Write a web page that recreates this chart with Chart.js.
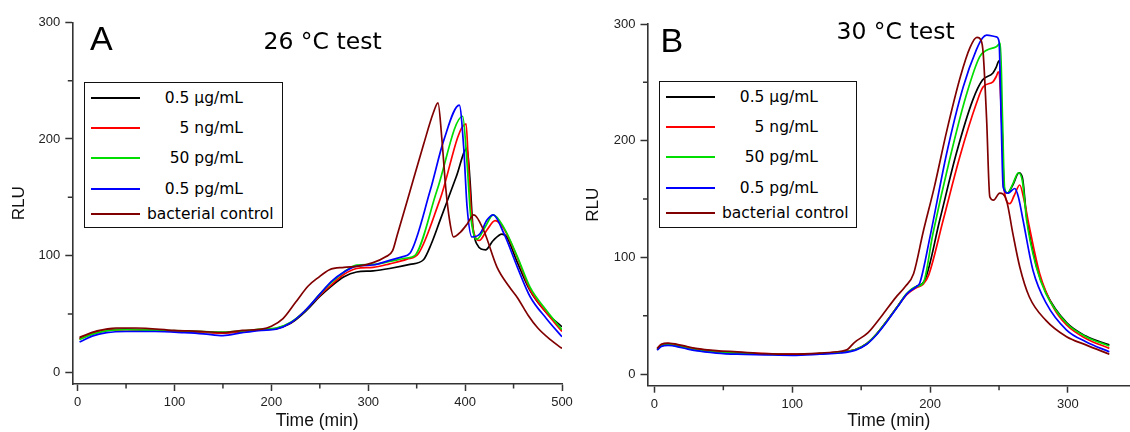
<!DOCTYPE html>
<html><head><meta charset="utf-8">
<script src="https://cdn.jsdelivr.net/npm/chart.js@4.4.1/dist/chart.umd.min.js"></script>
<style>
html,body{margin:0;padding:0;background:#fff;width:1130px;height:432px;overflow:hidden;position:relative;}
canvas{position:absolute;top:0;}
.lbl{position:absolute;white-space:nowrap;color:#000;}
.letter{font-family:"Liberation Sans",Arial,sans-serif;font-size:34px;line-height:34px;}
.title{font-family:"DejaVu Sans",sans-serif;font-size:23.5px;line-height:23.5px;}
.legend{position:absolute;border:1.5px solid #111;box-sizing:border-box;background:#fff;}
.row{position:absolute;left:0;width:100%;height:0;}
.swatch{position:absolute;left:6px;width:49px;height:2px;top:-1px;}
.txt{position:absolute;left:62px;width:96px;text-align:right;font-family:"DejaVu Sans",sans-serif;font-size:15.5px;line-height:20px;top:-10px;white-space:nowrap;color:#000;}
</style></head>
<body>
<canvas id="cA" width="578" height="432" style="left:0"></canvas>
<canvas id="cB" width="552" height="432" style="left:578px"></canvas>
<div class="lbl letter" style="left:90px;top:21px">A</div>
<div class="lbl title" style="left:263.5px;top:30px">26 °C test</div>
<div class="lbl letter" style="left:660.5px;top:22.5px">B</div>
<div class="lbl title" style="left:836.5px;top:20px">30 °C test</div>
<div class="legend" id="legA" style="left:84px;top:82px;width:199px;height:146px"></div>
<div class="legend" id="legB" style="left:659px;top:81px;width:198px;height:147px"></div>
<script>
// ---- Data (time in min, RLU) ----
const seriesLabels = ['0.5 μg/mL', '5 ng/mL', '50 pg/mL', '0.5 pg/mL', 'bacterial control'];
const seriesColors = ['#000000', '#ff0000', '#00dd00', '#0000ff', '#800000'];

const xTicksA = [0, 100, 200, 300, 400, 500];
const xMinorA = [50, 150, 250, 350, 450];
const xTicksB = [0, 100, 200, 300];
const xMinorB = [50, 150, 250];
const yTicks = [0, 100, 200, 300];
const yMinor = [50, 150, 250];

// Panel A: 26 °C
const blackA = [[2,29],[15,33.5],[30,36.5],[50,37],[80,36],[110,35],[130,34.5],[150,34],[170,35],[190,36.5],[205,37.5],[220,42],[235,52],[250,65],[262,74],[275,82],[288,86],[305,87],[322,89],[343,92.5],[357,96.5],[365,110],[374,130],[391,168],[402,192],[405,165],[408,125],[412,110],[421,105],[429,113],[438,118.5],[443,116],[453,96],[467,70],[484,51],[500,39]];
const redA = [[2,28.5],[15,33],[30,36],[50,36.5],[80,36],[110,35],[130,34.5],[150,33.5],[170,35],[190,36.5],[205,37.5],[220,42.5],[235,53],[250,66],[262,75],[275,84],[288,89],[305,90],[322,93],[340,97],[352,102],[374,148],[401,213],[403.5,176],[407,130],[410.5,116],[414.5,113],[422.5,122],[431,130],[440,123],[454,98],[467,71],[484,51],[500,35]];
const greenA = [[2,28],[15,32.5],[30,35.5],[50,36.5],[80,36],[110,35.5],[130,35],[150,34.5],[170,35.5],[190,37],[205,38],[220,43],[235,53],[250,67],[262,77],[275,86],[288,92],[305,92.5],[322,95],[340,98],[348,100],[371,156],[397.5,219.5],[402,179],[405.5,136],[408.7,119],[412,114],[421,125],[429,135],[440,124],[454,99],[467,73],[484,53],[500,36.5]];
const blueA = [[2,26],[15,31],[30,34],[50,35],[80,35],[110,34],[130,33],[150,31.5],[170,34],[190,36],[205,37],[220,42.5],[235,53],[250,67],[262,78],[275,86],[288,91],[305,92],[322,96],[335,99],[343,102],[364,156],[378,199],[394,229],[398.5,193],[402,142],[407,116],[415.5,119],[422.5,130.5],[429,135],[440,119],[454,90],[467,65],[484,46],[500,30.5]];
const brownA = [[2,30],[20,35.5],[40,38],[60,38],[100,36],[130,35],[150,34],[170,36],[190,37],[200,39.5],[212,46],[225,60],[238,74],[248,81],[260,88],[275,90],[290,91],[305,94],[318,99],[325,104],[330,118],[343,155],[357,195],[367,222],[372,231],[376,200],[380,158],[384,130],[388,116],[395,120],[402,127],[409,135],[419,122],[433,90],[445,74],[454,64],[465,49],[475,38],[488,28],[500,20.5]];

// Panel B: 30 °C
const blackB = [[2,21],[5,24.5],[10,25.5],[20,23.5],[30,21],[45,19],[60,18],[80,17],[100,16.5],[120,17.5],[135,18.5],[146,21],[154,26],[161,34],[169,46],[177,59],[183,68.5],[190,75],[196,80],[207,132],[219,189],[231,235],[238,252],[245.6,258],[248,263],[250,268.5],[252.5,200],[253.5,160],[256,155],[260,162],[264.5,172.5],[267,168],[270,135],[277,93],[284,70],[299,44],[313,32.5],[330,25]];
const redB = [[2,21.5],[5,25],[10,26],[20,24],[30,21.5],[45,19.5],[60,18.5],[80,17.5],[100,17],[120,17.5],[135,19],[146,21],[154,26],[161,34],[169,46],[177,59],[183,68],[190,74],[195,77],[199,85],[209.5,132],[221.5,186],[233.6,232],[238.4,246],[245.6,250.5],[248,255],[249.5,259],[252.5,200],[253.5,160],[257.8,146],[261,153],[265,162],[268,150],[272,126],[279.5,86],[289,58],[299,42],[313,30.5],[330,22]];
const greenB = [[2,21],[5,24],[10,25],[20,23],[30,20.5],[45,18.5],[60,18],[80,17],[100,16.5],[120,17.5],[135,18.5],[146,21],[154,26],[161,34],[169,46],[177,59],[183,69],[190,75],[195,78],[202,120],[214,183],[226,238],[236,272],[241,277.5],[248,280.5],[251,283.5],[252.5,220],[254,160],[256,155],[260,163],[264,172.5],[267,165],[270,132],[277,92],[284,69],[299,43.5],[313,32],[330,24]];
const blueB = [[2,20.5],[5,23.5],[10,24.5],[20,22.5],[30,20],[45,18],[60,17],[80,16.5],[100,16],[120,17],[135,18],[146,20.5],[154,25.5],[161,33.5],[169,45.5],[177,58.5],[183,68.5],[190,75],[192.5,78],[200,118],[212,189],[224,246],[233.6,278],[238,288],[241,290.5],[248,289],[250,285],[251.5,220],[253,160],[256.5,155],[261.4,159],[264,152],[267.4,132],[274.6,89],[284.3,60.5],[299,37.7],[313,27.7],[330,19]];
const brownB = [[2,22],[5,25.5],[10,26.5],[20,24.5],[30,22],[45,20],[60,19],[80,17.5],[100,17],[120,18],[135,19.5],[140,21],[145,27],[155,35.5],[165,50],[175,65.5],[182,75],[188,86],[195,122],[203,160],[212,208],[222,255],[229,280],[234,288.5],[237,286],[238.5,275],[241,218],[243.3,152],[246,149],[250.5,155],[255.4,149],[260,120.5],[265,92],[272,66],[284,46],[299,32],[313,25],[330,17]];

const seriesA = [blackA, redA, greenA, blueA, brownA];
const seriesB = [blackB, redB, greenB, blueB, brownB];

// ---- Rendering ----
const axisColor = '#333333';
const tickFont = {family: '"Liberation Sans", Arial, sans-serif', size: 13};
const titleFont = {family: '"Liberation Sans", Arial, sans-serif', size: 17.5};

const minorTicks = {
  id: 'minorTicks',
  afterDraw(chart, args, opts) {
    const ctx = chart.ctx, xs = chart.scales.x, ys = chart.scales.y;
    ctx.save();
    ctx.strokeStyle = axisColor; ctx.lineWidth = 1.5;
    ctx.beginPath();
    for (const v of opts.x) { const p = xs.getPixelForValue(v); ctx.moveTo(p, xs.top); ctx.lineTo(p, xs.top + 4.5); }
    for (const v of opts.y) { const p = ys.getPixelForValue(v); ctx.moveTo(ys.right, p); ctx.lineTo(ys.right - 4.5, p); }
    ctx.stroke();
    ctx.restore();
  }
};

function makeChart(id, series, cfg) {
  const datasets = series.map((d, i) => ({
    label: seriesLabels[i],
    data: d,
    borderColor: seriesColors[i],
    backgroundColor: seriesColors[i],
    borderWidth: 1.7,
    pointRadius: 0,
    fill: false,
    cubicInterpolationMode: 'monotone',
    order: series.length - 1 - i
  }));
  return new Chart(document.getElementById(id), {
    type: 'line',
    data: {datasets},
    plugins: [minorTicks],
    options: {
      responsive: false,
      animation: false,
      events: [],
      layout: {padding: cfg.padding},
      plugins: {
        legend: {display: false},
        tooltip: {enabled: false},
        minorTicks: {x: cfg.xMinor, y: yMinor}
      },
      scales: {
        x: {
          type: 'linear', min: cfg.xMin, max: cfg.xMax,
          afterBuildTicks: s => { s.ticks = cfg.xTicks.map(v => ({value: v})); },
          afterFit: s => { s.height = cfg.xHeight; s.paddingLeft = 0; s.paddingRight = 0; },
          ticks: {font: tickFont, color: '#222', padding: 4, maxRotation: 0, autoSkip: false},
          grid: {display: true, drawOnChartArea: false, drawTicks: true, tickLength: 7, tickWidth: 1.5, tickColor: axisColor},
          border: {display: true, color: axisColor, width: 1.6},
          title: {display: true, text: 'Time (min)', font: titleFont, color: '#111', padding: {top: 0, bottom: 0}}
        },
        y: {
          type: 'linear', min: -10, max: 300,
          afterBuildTicks: s => { s.ticks = yTicks.map(v => ({value: v})); },
          afterFit: s => { s.width = cfg.yWidth; s.paddingTop = 0; s.paddingBottom = 0; },
          ticks: {font: tickFont, color: '#222', padding: 5},
          grid: {display: true, drawOnChartArea: false, drawTicks: true, tickLength: 7, tickWidth: 1.5, tickColor: axisColor},
          border: {display: true, color: axisColor, width: 1.6},
          title: {display: true, text: 'RLU', font: {family: titleFont.family, size: 17}, color: '#111', padding: cfg.yTitlePad}
        }
      }
    }
  });
}

makeChart('cA', seriesA, {xMin: -5.5, xMax: 500, xTicks: xTicksA, xMinor: xMinorA,
  padding: {left: 0, right: 16, top: 22.3, bottom: 0}, xHeight: 48, yWidth: 72.3, yTitlePad: {top: 9, bottom: 0}});
makeChart('cB', seriesB, {xMin: -5, xMax: 345, xTicks: xTicksB, xMinor: xMinorB,
  padding: {left: 0, right: 0, top: 24, bottom: 0}, xHeight: 46.3, yWidth: 69.5, yTitlePad: {top: 5, bottom: 0}});

// ---- HTML legends built from series labels/colours ----
const rowOffsets = [14.5, 44.5, 75, 106, 131];
function buildLegend(id) {
  const box = document.getElementById(id);
  seriesLabels.forEach((lab, i) => {
    const row = document.createElement('div');
    row.className = 'row';
    row.style.top = rowOffsets[i] + 'px';
    const sw = document.createElement('div');
    sw.className = 'swatch';
    sw.style.background = seriesColors[i];
    const tx = document.createElement('div');
    tx.className = 'txt';
    tx.textContent = lab;
    row.appendChild(sw); row.appendChild(tx);
    box.appendChild(row);
  });
}
buildLegend('legA');
buildLegend('legB');
</script>
</body></html>
